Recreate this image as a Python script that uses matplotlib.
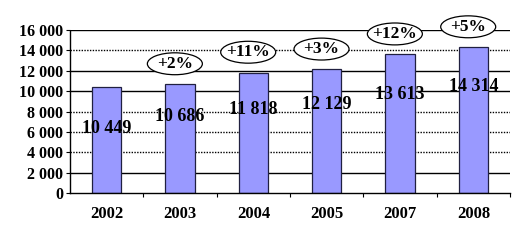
import matplotlib
matplotlib.use('Agg')
import matplotlib.pyplot as plt
from matplotlib.patches import Ellipse

# data
years = ['2002', '2003', '2004', '2005', '2007', '2008']
values = [10449, 10686, 11818, 12129, 13613, 14314]
value_labels = ['10 449', '10 686', '11 818', '12 129', '13 613', '14 314']
growth = ['', '+2%', '+11%', '+3%', '+12%', '+5%']
yticks = [0, 2000, 4000, 6000, 8000, 10000, 12000, 14000, 16000]
ytick_labels = ['0', '2 000', '4 000', '6 000', '8 000', '10 000', '12 000', '14 000', '16 000']

plt.rcParams['font.family'] = ['Liberation Serif', 'DejaVu Serif']
plt.rcParams['font.weight'] = 'bold'

fig = plt.figure(figsize=(5.28, 2.44), dpi=100)
ax = fig.add_axes([70/528, 1 - 193/244, 440/528, 163/244])

x = list(range(len(years)))

# grid lines, some solid and some dotted like the original
solid = [2000, 10000, 12000, 16000]
for y in yticks[1:]:
    if y in solid:
        ax.axhline(y, color='black', lw=1.0, zorder=0)
    else:
        ax.axhline(y, color='black', lw=1.0, ls=(0, (1, 1)), zorder=0)

ax.bar(x, values, width=0.4, color='#9999FF', edgecolor='#202040', linewidth=0.9, zorder=2)

# value labels inside bars (placed a bit under the top, like the source)
label_frac = [0.61, 0.70, 0.69, 0.72, 0.71, 0.73]
for i, v in enumerate(values):
    ax.text(x[i], v * label_frac[i], value_labels[i], ha='center', va='center',
            fontsize=13, fontweight='bold', zorder=3)

# growth ellipses above bars
for i, g in enumerate(growth):
    if not g:
        continue
    cx = x[i] - 0.07
    cy = values[i] + 2000
    e = Ellipse((cx, cy), width=0.75, height=2150, facecolor='white',
                edgecolor='black', lw=0.9, clip_on=False, zorder=4)
    ax.add_patch(e)
    ax.text(cx, cy, g, ha='center', va='center', fontsize=12.5,
            fontweight='bold', zorder=5, clip_on=False)

ax.set_xlim(-0.5, len(years) - 0.5)
ax.set_ylim(0, 16000)
ax.set_yticks(yticks)
ax.set_yticklabels(ytick_labels, fontsize=11.5, fontweight='bold')
ax.set_xticks(x)
ax.set_xticklabels(years, fontsize=12, fontweight='bold')
ax.tick_params(axis='x', length=0, pad=9)
ax.set_xticks([i + 0.5 for i in x], minor=True)
ax.tick_params(axis='x', which='minor', length=3, direction='out', width=0.8)
ax.tick_params(axis='y', length=3, direction='out', width=0.8, pad=2)

for s in ['top', 'right']:
    ax.spines[s].set_visible(False)
for s in ['left', 'bottom']:
    ax.spines[s].set_linestyle((0, (1, 1)))
    ax.spines[s].set_linewidth(1.0)

fig.savefig('out.png', dpi=100)
